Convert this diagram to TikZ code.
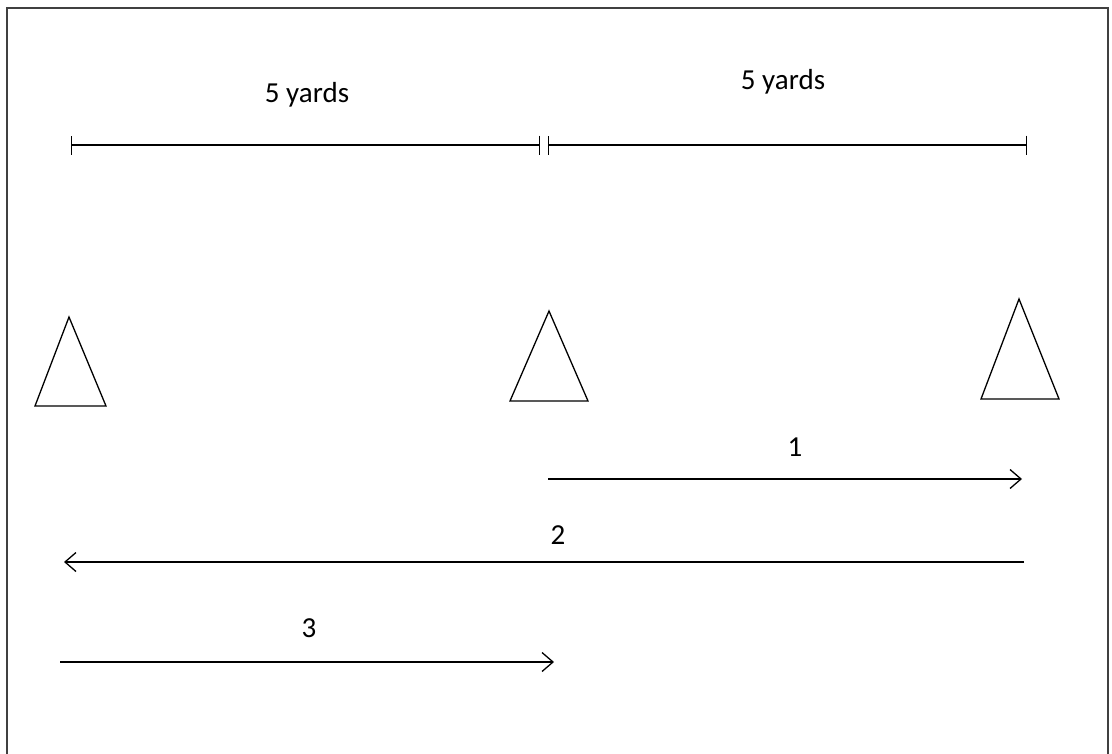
\documentclass[tikz,border=0pt]{standalone}
\usepackage{fontspec}
\setmainfont{Carlito}
\usetikzlibrary{arrows.meta}

\begin{document}
\begin{tikzpicture}[
  x=1pt, y=-1pt,
  lbl/.style={font=\fontsize{29}{34}\selectfont, inner sep=0pt},
  dim/.style={line width=1.4pt, {Bar[width=19pt,line width=1.4pt]}-{Bar[width=19pt,line width=1.4pt]}},
  cone/.style={draw, line width=1.3pt, line join=miter},
  run/.style={draw, line width=1.3pt, -{Straight Barb[length=11pt,width=19pt,line width=1.3pt]}},
]
  \useasboundingbox (0,0) rectangle (1112,753);
  % frame, bottom edge cut off
  \draw[line width=2.2pt, black!75] (7,760) -- (7,8) -- (1108,8) -- (1108,760);

  % distances
  \coordinate (d1a) at (71,145);
  \coordinate (d1b) at (540,145);
  \coordinate (d2a) at (548,145);
  \coordinate (d2b) at (1027,145);
  \draw[dim] (d1a) -- (d1b);
  \draw[dim] (d2a) -- (d2b);
  \node[lbl] (yd1) at (307,95) {5 yards};
  \node[lbl] (yd2) at (783,82) {5 yards};

  % cones
  \draw[cone] (35,406) -- (69,317) -- (106,406) -- cycle;
  \draw[cone] (510,401) -- (549,311) -- (588,401) -- cycle;
  \draw[cone] (981,399) -- (1019,299) -- (1059,399) -- cycle;

  % runs
  \coordinate (r1s) at (548,479);
  \coordinate (r1e) at (1022,479);
  \coordinate (r2s) at (1024,562);
  \coordinate (r2e) at (64,562);
  \coordinate (r3s) at (60,662);
  \coordinate (r3e) at (554,662);
  \draw[run] (r1s) -- (r1e);
  \draw[run] (r2s) -- (r2e);
  \draw[run] (r3s) -- (r3e);
  \node[lbl] (n1) at (795,447) {1};
  \node[lbl] (n2) at (558,535) {2};
  \node[lbl] (n3) at (309,628) {3};
\end{tikzpicture}
\end{document}
